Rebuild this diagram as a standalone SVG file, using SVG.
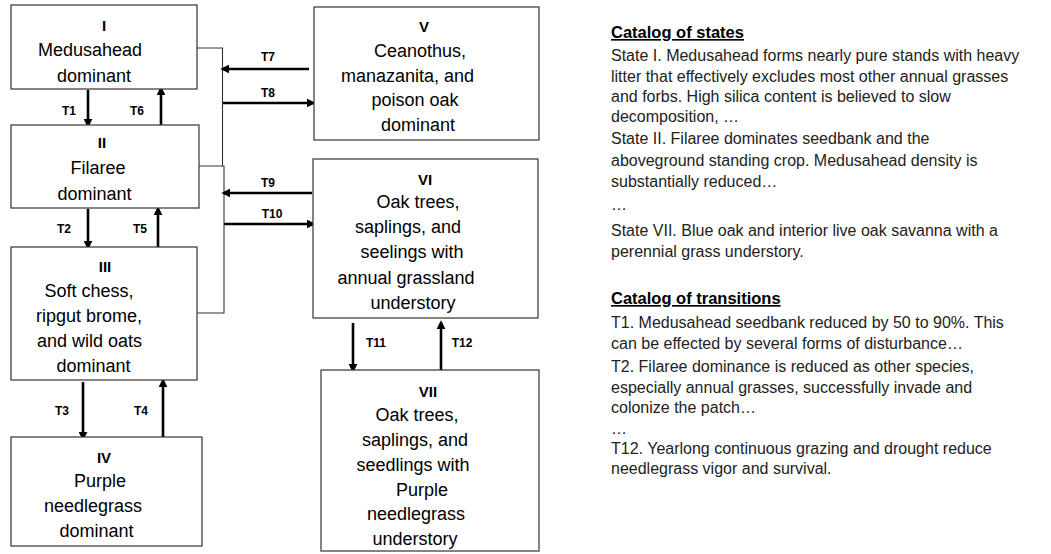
<svg xmlns="http://www.w3.org/2000/svg" width="1051" height="554" viewBox="0 0 1051 554">
<defs>
<marker id="ah" viewBox="0 0 10 10" refX="7" refY="5" markerWidth="9" markerHeight="9" markerUnits="userSpaceOnUse" orient="auto">
<path d="M0,0 L10,5 L0,10 z" fill="#000"/>
</marker>
</defs>
<style>
.box{fill:#fff;stroke:#333;stroke-width:1.2}
.num{font-family:"Liberation Sans",Arial,sans-serif;font-size:15px;font-weight:bold;text-anchor:middle;fill:#000}
.t{font-family:"Liberation Sans",Arial,sans-serif;font-size:18px;text-anchor:middle;fill:#000}
.arr{stroke:#000;stroke-width:2.6;fill:none;marker-end:url(#ah)}
.br{stroke:#333;stroke-width:1.1;fill:none}
.lbl{font-family:"Liberation Sans",Arial,sans-serif;font-size:12px;font-weight:bold;text-anchor:middle;fill:#000}
.cat{font-family:"Liberation Sans",Arial,sans-serif;font-size:16px;fill:#222}
.hd{font-weight:bold;font-size:16.5px;text-decoration:underline;fill:#000}
</style>
<rect width="1051" height="554" fill="#fff"/>
<g id="connectors">
<polyline class="br" points="197,48 222.5,48 222.5,166"/>
<polyline class="br" points="199,166 224,166 224,313 197,313"/>
<line class="arr" x1="88" y1="90" x2="88" y2="125"/>
<line class="arr" x1="161" y1="125" x2="161" y2="89"/>
<line class="arr" x1="88" y1="209" x2="88" y2="247"/>
<line class="arr" x1="158" y1="247" x2="158" y2="209"/>
<line class="arr" x1="83" y1="382" x2="83" y2="438"/>
<line class="arr" x1="163" y1="437" x2="163" y2="381"/>
<line class="arr" x1="309" y1="69" x2="223" y2="69"/>
<line class="arr" x1="223" y1="103" x2="313" y2="103"/>
<line class="arr" x1="312" y1="193" x2="224" y2="193"/>
<line class="arr" x1="224" y1="224" x2="313" y2="224"/>
<line class="arr" x1="353" y1="323" x2="353" y2="370"/>
<line class="arr" x1="441" y1="370" x2="441" y2="323"/>
<text class="lbl" x="69" y="115">T1</text>
<text class="lbl" x="137" y="115">T6</text>
<text class="lbl" x="64" y="233">T2</text>
<text class="lbl" x="140" y="233">T5</text>
<text class="lbl" x="62" y="415">T3</text>
<text class="lbl" x="141" y="415">T4</text>
<text class="lbl" x="268" y="61">T7</text>
<text class="lbl" x="268" y="97">T8</text>
<text class="lbl" x="268" y="187">T9</text>
<text class="lbl" x="272" y="218">T10</text>
<text class="lbl" x="376" y="347">T11</text>
<text class="lbl" x="462" y="347">T12</text>
</g>
<g id="state-I">
<rect class="box" x="11" y="5" width="186" height="84"/>
<text class="num" x="104" y="31">I</text>
<text class="t" x="90" y="56">Medusahead</text>
<text class="t" x="94" y="82">dominant</text>
</g>
<g id="state-II">
<rect class="box" x="11" y="125" width="188" height="83"/>
<text class="num" x="102" y="148">II</text>
<text class="t" x="98" y="174">Filaree</text>
<text class="t" x="94.5" y="200">dominant</text>
</g>
<g id="state-III">
<rect class="box" x="11" y="247" width="186" height="133"/>
<text class="num" x="105" y="272">III</text>
<text class="t" x="89" y="297">Soft chess,</text>
<text class="t" x="89" y="322">ripgut brome,</text>
<text class="t" x="89.5" y="347">and wild oats</text>
<text class="t" x="93.5" y="372">dominant</text>
</g>
<g id="state-IV">
<rect class="box" x="11" y="437" width="191" height="109"/>
<text class="num" x="104" y="463">IV</text>
<text class="t" x="100" y="487">Purple</text>
<text class="t" x="93" y="512">needlegrass</text>
<text class="t" x="96.5" y="537">dominant</text>
</g>
<g id="state-V">
<rect class="box" x="314" y="7" width="225" height="133"/>
<text class="num" x="424" y="32">V</text>
<text class="t" x="420" y="57">Ceanothus,</text>
<text class="t" x="407.5" y="82">manazanita, and</text>
<text class="t" x="415" y="106">poison oak</text>
<text class="t" x="418" y="131">dominant</text>
</g>
<g id="state-VI">
<rect class="box" x="313" y="159" width="225" height="159"/>
<text class="num" x="425" y="185">VI</text>
<text class="t" x="418" y="208">Oak trees,</text>
<text class="t" x="408" y="233">saplings, and</text>
<text class="t" x="412" y="258">seelings with</text>
<text class="t" x="406" y="284">annual grassland</text>
<text class="t" x="413" y="309">understory</text>
</g>
<g id="state-VII">
<rect class="box" x="321" y="370" width="218" height="181"/>
<text class="num" x="428" y="397">VII</text>
<text class="t" x="417" y="421">Oak trees,</text>
<text class="t" x="415" y="446">saplings, and</text>
<text class="t" x="413" y="471">seedlings with</text>
<text class="t" x="422" y="496">Purple</text>
<text class="t" x="416" y="520">needlegrass</text>
<text class="t" x="415" y="545">understory</text>
</g>
<g id="catalog">
<text class="cat hd" x="611" y="38">Catalog of states</text>
<text class="cat" x="611" y="61">State I. Medusahead forms nearly pure stands with heavy</text>
<text class="cat" x="611" y="82">litter that effectively excludes most other annual grasses</text>
<text class="cat" x="611" y="102">and forbs. High silica content is believed to slow</text>
<text class="cat" x="611" y="122">decomposition, …</text>
<text class="cat" x="611" y="144">State II. Filaree dominates seedbank and the</text>
<text class="cat" x="611" y="166">aboveground standing crop. Medusahead density is</text>
<text class="cat" x="611" y="187">substantially reduced…</text>
<text class="cat" x="611" y="210">…</text>
<text class="cat" x="611" y="236">State VII. Blue oak and interior live oak savanna with a</text>
<text class="cat" x="611" y="257">perennial grass understory.</text>
<text class="cat hd" x="611" y="304">Catalog of transitions</text>
<text class="cat" x="611" y="328">T1. Medusahead seedbank reduced by 50 to 90%. This</text>
<text class="cat" x="611" y="349">can be effected by several forms of disturbance…</text>
<text class="cat" x="611" y="372">T2.  Filaree dominance is reduced as other species,</text>
<text class="cat" x="611" y="393">especially annual grasses, successfully invade and</text>
<text class="cat" x="611" y="413">colonize the patch…</text>
<text class="cat" x="611" y="434">…</text>
<text class="cat" x="611" y="454">T12. Yearlong continuous grazing and drought reduce</text>
<text class="cat" x="611" y="474">needlegrass vigor and survival.</text>
</g>
</svg>
